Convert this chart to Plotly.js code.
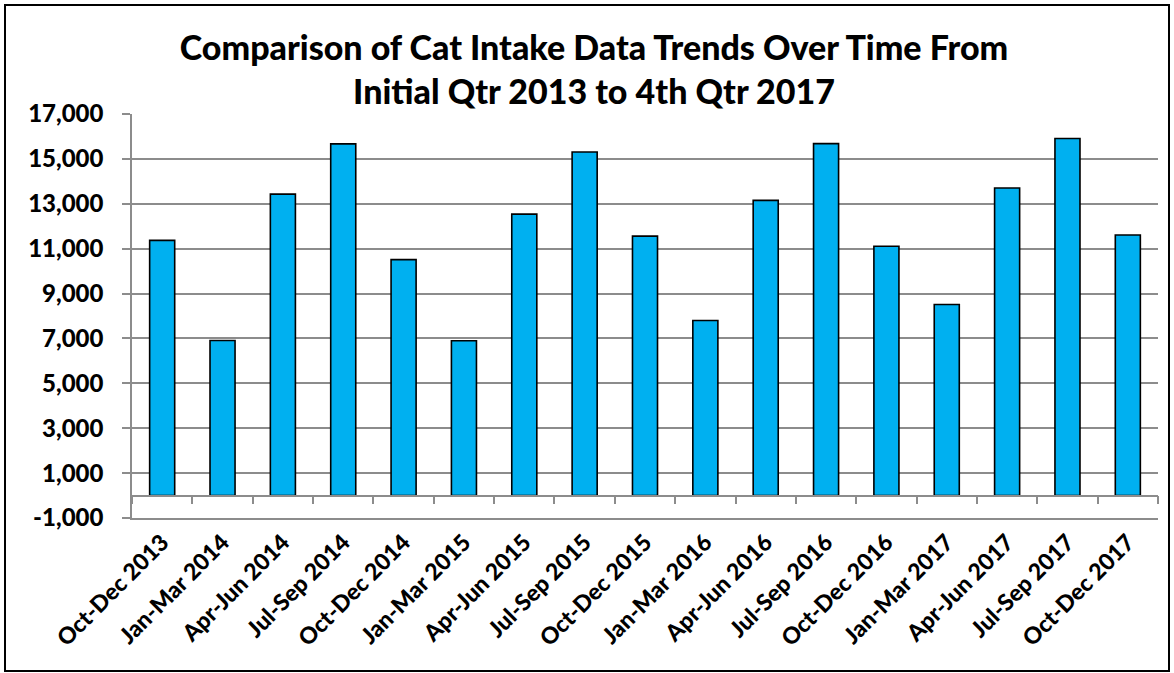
<!DOCTYPE html>
<html>
<head>
<meta charset="utf-8">
<script src="https://cdn.plot.ly/plotly-3.0.1.min.js"></script>
<style>
  html, body { margin: 0; padding: 0; background: #fff; }
  #wrap { position: relative; width: 1174px; height: 673px; }
  #chart { position: absolute; left: 0; top: 0; width: 1174px; height: 673px; }
  #frame { position: absolute; left: 4px; top: 4px; width: 1162px; height: 664px; border: 2px solid #000; pointer-events: none; }
</style>
</head>
<body>
<div id="wrap">
  <div id="chart"></div>
  <div id="frame"></div>
</div>
<script>
const categories = [
  "Oct-Dec 2013", "Jan-Mar 2014", "Apr-Jun 2014", "Jul-Sep 2014",
  "Oct-Dec 2014", "Jan-Mar 2015", "Apr-Jun 2015", "Jul-Sep 2015",
  "Oct-Dec 2015", "Jan-Mar 2016", "Apr-Jun 2016", "Jul-Sep 2016",
  "Oct-Dec 2016", "Jan-Mar 2017", "Apr-Jun 2017", "Jul-Sep 2017",
  "Oct-Dec 2017"
];
const catIntake = [
  11370, 6910, 13430, 15670,
  10510, 6900, 12540, 15310,
  11560, 7800, 13150, 15680,
  11110, 8510, 13700, 15910,
  11610
];
const yTickVals = [-1000, 1000, 3000, 5000, 7000, 9000, 11000, 13000, 15000, 17000];
const yTickText = ["-1,000", "1,000", "3,000", "5,000", "7,000", "9,000", "11,000", "13,000", "15,000", "17,000"];
const titleText = "Comparison of Cat Intake Data Trends Over Time From<br>Initial Qtr 2013 to 4th Qtr 2017";
const yRange = [-1000, 17000];

const fontFam = "Lato, 'Open Sans', sans-serif";

const traces = [
  {
    type: "bar",
    x: categories,
    y: catIntake,
    marker: { color: "#00B0F0", line: { color: "#000000", width: 1.6 } },
    hoverinfo: "x+y",
    showlegend: false
  },
  {
    type: "scatter",
    mode: "none",
    x: categories,
    y: catIntake,
    xaxis: "x2",
    yaxis: "y",
    hoverinfo: "skip",
    showlegend: false
  }
];

const layout = {
  width: 1174,
  height: 673,
  margin: { l: 132, r: 16, t: 114, b: 155 },
  paper_bgcolor: "rgba(0,0,0,0)",
  plot_bgcolor: "#ffffff",
  font: { family: fontFam, color: "#000" },
  title: {
    text: titleText,
    font: { family: fontFam, size: 34, weight: 900, color: "#000" },
    xref: "container", x: 0.506, xanchor: "center",
    yref: "container", y: 0.911, yanchor: "middle"
  },
  bargap: 0.585,
  xaxis: {
    type: "category",
    categoryorder: "array",
    categoryarray: categories,
    range: [-0.5, categories.length - 0.5],
    showline: true,
    linecolor: "#8c8c8c",
    linewidth: 1.5,
    ticks: "",
    showgrid: false,
    tickangle: -45,
    tickfont: { family: fontFam, size: 23, weight: 900, color: "#000" },
    fixedrange: true
  },
  xaxis2: {
    type: "category",
    categoryorder: "array",
    categoryarray: categories,
    range: [-0.5, categories.length - 0.5],
    overlaying: "x",
    anchor: "free",
    position: (0 - yRange[0]) / (yRange[1] - yRange[0]),
    showline: true,
    linecolor: "#8c8c8c",
    linewidth: 1.5,
    ticks: "outside",
    tickson: "boundaries",
    ticklen: 8,
    tickwidth: 1.5,
    tickcolor: "#8c8c8c",
    showticklabels: false,
    showgrid: false,
    fixedrange: true
  },
  yaxis: {
    range: yRange,
    tickmode: "array",
    tickvals: yTickVals,
    ticktext: yTickText,
    showline: true,
    linecolor: "#8c8c8c",
    linewidth: 1.5,
    ticks: "outside",
    ticklen: 8,
    tickwidth: 1.5,
    tickcolor: "#8c8c8c",
    ticklabelstandoff: 14,
    showgrid: true,
    gridcolor: "#8c8c8c",
    gridwidth: 1.5,
    zeroline: false,
    tickfont: { family: fontFam, size: 24, weight: 900, color: "#000" },
    fixedrange: true
  }
};

Plotly.newPlot("chart", traces, layout, { displayModeBar: false, staticPlot: false });
</script>
</body>
</html>
